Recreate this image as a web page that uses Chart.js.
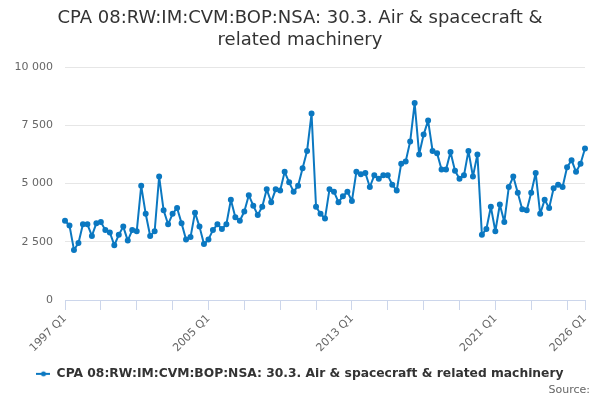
<!DOCTYPE html>
<html>
<head>
<meta charset="utf-8">
<script src="https://cdn.jsdelivr.net/npm/chart.js@4"></script>
<style>
  html, body { margin: 0; padding: 0; background: #fff; }
  #wrap { width: 600px; height: 400px; }
</style>
</head>
<body>
<div id="wrap"><canvas id="chart"></canvas></div>
<script>
// quarters 1997 Q1 .. 2026 Q1
const FIRST_YEAR = 1997;
const LAST_YEAR = 2026;
const quarters = [];
for (let y = FIRST_YEAR; y <= LAST_YEAR; y++) {
    for (let q = 1; q <= 4; q++) {
        if (y === LAST_YEAR && q > 1) break;
        quarters.push(y + ' Q' + q);
    }
}

const values1997to2004 = [
    3400, 3200, 2150, 2450, 3250, 3250, 2750, 3300,
    3350, 3000, 2900, 2350, 2800, 3150, 2550, 3000,
    2950, 4900, 3700, 2750, 2950, 5300, 3850, 3250,
    3700, 3950, 3300, 2600, 2700, 3750, 3150, 2400
];
const values2005to2012 = [
    2600, 3000, 3250, 3050, 3250, 4300, 3550, 3400,
    3800, 4500, 4050, 3650, 4000, 4750, 4200, 4750,
    4700, 5500, 5050, 4650, 4900, 5650, 6400, 8000,
    4000, 3700, 3500, 4750, 4650, 4200, 4450, 4650
];
const values2013to2020 = [
    4250, 5500, 5400, 5450, 4850, 5350, 5200, 5350,
    5350, 4950, 4700, 5850, 5950, 6800, 8450, 6250,
    7100, 7700, 6400, 6300, 5600, 5600, 6350, 5550,
    5200, 5350, 6400, 5300, 6250, 2800, 3050, 4000
];
const values2021to2026 = [
    2950, 4100, 3350, 4850, 5300, 4600, 3900, 3850,
    4600, 5450, 3700, 4300, 3950, 4800, 4950, 4850,
    5700, 6000, 5500, 5850, 6500
];
const values = [].concat(values1997to2004, values2005to2012, values2013to2020, values2021to2026);

const yTicks = [0, 2500, 5000, 7500, 10000];

const SERIES_NAME = 'CPA 08:RW:IM:CVM:BOP:NSA: 30.3. Air & spacecraft & related machinery';
const LINE_COLOR = '#0b78c1';
const FONT = '"DejaVu Sans", sans-serif';

function spaced(n) {
    return String(n).replace(/\B(?=(\d{3})+(?!\d))/g, ' ');
}

// legend symbol: short line with a dot in the middle
const legendSymbol = document.createElement('canvas');
legendSymbol.width = 14;
legendSymbol.height = 8;
(function () {
    const c = legendSymbol.getContext('2d');
    c.strokeStyle = LINE_COLOR;
    c.lineWidth = 2;
    c.beginPath();
    c.moveTo(0, 4);
    c.lineTo(14, 4);
    c.stroke();
    c.fillStyle = LINE_COLOR;
    c.beginPath();
    c.arc(7, 4, 2.5, 0, Math.PI * 2);
    c.fill();
})();

const sourcePlugin = {
    id: 'sourceText',
    afterDraw(chart) {
        const c = chart.ctx;
        c.save();
        c.font = '11px ' + FONT;
        c.fillStyle = '#666666';
        c.textAlign = 'right';
        c.textBaseline = 'middle';
        c.fillText('Source:', 590, 390);
        c.restore();
    }
};

const lastIndex = quarters.length - 1;

new Chart(document.getElementById('chart').getContext('2d'), {
    type: 'line',
    data: {
        labels: quarters,
        datasets: [{
            label: SERIES_NAME,
            data: values,
            borderColor: LINE_COLOR,
            backgroundColor: LINE_COLOR,
            borderWidth: 2,
            borderJoinStyle: 'round',
            pointRadius: 2,
            pointHoverRadius: 3,
            tension: 0,
            fill: false
        }]
    },
    options: {
        responsive: true,
        maintainAspectRatio: false,
        animation: false,
        layout: {
            padding: {left: 15, right: 15, top: 0, bottom: 10}
        },
        plugins: {
            title: {
                display: true,
                text: ['CPA 08:RW:IM:CVM:BOP:NSA: 30.3. Air & spacecraft &', 'related machinery'],
                color: '#333333',
                font: {family: FONT, size: 18, weight: 'normal', lineHeight: '22px'},
                padding: {top: 7, bottom: 16}
            },
            legend: {
                display: true,
                position: 'bottom',
                labels: {
                    color: '#333333',
                    font: {family: FONT, size: 12.3, weight: 'bold'},
                    usePointStyle: true,
                    pointStyle: legendSymbol,
                    pointStyleWidth: 14,
                    padding: 11
                }
            },
            tooltip: {enabled: false}
        },
        scales: {
            x: {
                type: 'category',
                offset: false,
                grid: {
                    drawOnChartArea: false,
                    drawTicks: true,
                    tickLength: 10,
                    color: '#ccd6eb'
                },
                border: {color: '#ccd6eb'},
                ticks: {
                    autoSkip: false,
                    maxRotation: 45,
                    minRotation: 45,
                    padding: 2,
                    color: '#666666',
                    font: {family: FONT, size: 11},
                    callback: function (val, index) {
                        if (index % 32 === 0 || index === lastIndex) return quarters[index];
                        if (index % 8 === 0) return '';
                        return null;
                    }
                }
            },
            y: {
                min: 0,
                max: 10000,
                afterBuildTicks: function (axis) {
                    axis.ticks = yTicks.map(function (v) { return {value: v}; });
                },
                afterFit: function (axis) {
                    axis.width = 50;
                },
                grid: {color: '#e6e6e6', drawTicks: false},
                border: {display: false},
                ticks: {
                    padding: 12,
                    color: '#666666',
                    font: {family: FONT, size: 11},
                    callback: function (v) { return spaced(v); }
                }
            }
        }
    },
    plugins: [sourcePlugin]
});
</script>
</body>
</html>
